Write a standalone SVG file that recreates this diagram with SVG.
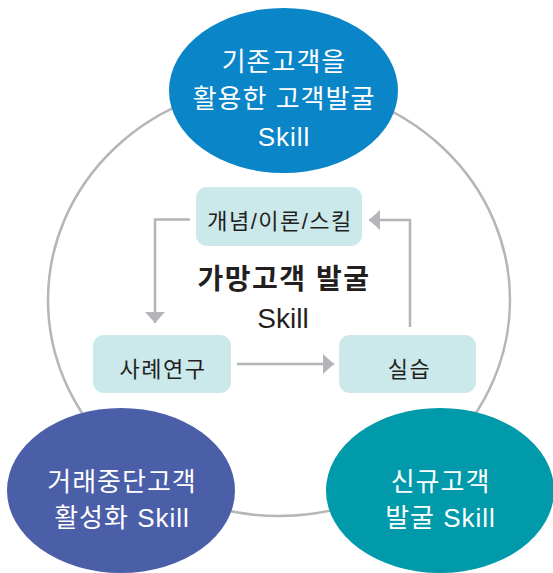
<svg xmlns="http://www.w3.org/2000/svg" width="553" height="573" viewBox="0 0 553 573">
  <style>
    .ring { fill: none; stroke: #b6b6b9; stroke-width: 2.5; }
    .big { font-family: "Liberation Sans", "Noto Sans CJK KR", sans-serif; font-size: 26px; letter-spacing: 1px; fill: #ffffff; text-anchor: middle; }
    .box { fill: #cbe8eb; }
    .boxtxt { font-family: "Liberation Sans", "Noto Sans CJK KR", sans-serif; font-size: 22px; letter-spacing: 1.5px; fill: #231f20; text-anchor: middle; }
    .title { font-family: "Liberation Sans", "Noto Sans CJK KR", sans-serif; font-size: 28px; fill: #231f20; text-anchor: middle; }
    .link { fill: none; stroke: #b4b5b9; stroke-width: 2.5; }
  </style>
  <defs>
    <marker id="head" markerUnits="userSpaceOnUse" markerWidth="12" markerHeight="20" refX="11" refY="10" orient="auto">
      <path d="M0,0 L11,10 L0,20 Z" fill="#b4b5b9"/>
    </marker>
  </defs>
  <rect width="553" height="573" fill="#ffffff"/>

  <!-- cycle ring behind the three outer nodes -->
  <ellipse class="ring" cx="279" cy="300" rx="231" ry="216"/>

  <g id="node-existing">
    <ellipse cx="283.5" cy="90.5" rx="114.5" ry="82.5" fill="#0a85c8"/>
    <text class="big" x="284" y="71">기존고객을</text>
    <text class="big" x="284" y="108">활용한 고객발굴</text>
    <text class="big" x="284" y="146">Skill</text>
  </g>

  <g id="node-dormant">
    <ellipse cx="121" cy="490.5" rx="114" ry="82.5" fill="#4b5ea8"/>
    <text class="big" x="122" y="491">거래중단고객</text>
    <text class="big" x="122" y="527">활성화 Skill</text>
  </g>

  <g id="node-new">
    <ellipse cx="440" cy="490.5" rx="114" ry="82.5" fill="#009aaa"/>
    <text class="big" x="440.5" y="491">신규고객</text>
    <text class="big" x="440.5" y="527">발굴 Skill</text>
  </g>

  <g id="center-title">
    <text class="title" x="284" y="289" font-weight="bold" letter-spacing="1.5">가망고객 발굴</text>
    <text class="title" x="283" y="328">Skill</text>
  </g>

  <g id="box-concept">
    <rect class="box" x="196" y="187" width="166" height="59" rx="11"/>
    <text class="boxtxt" x="280" y="229">개념/이론/스킬</text>
  </g>

  <g id="box-case">
    <rect class="box" x="93" y="335" width="138" height="58" rx="11"/>
    <text class="boxtxt" x="163" y="377">사례연구</text>
  </g>

  <g id="box-practice">
    <rect class="box" x="339" y="335" width="137" height="58" rx="11"/>
    <text class="boxtxt" x="409.5" y="377">실습</text>
  </g>

  <g id="connectors">
    <path class="link" d="M190,219.5 H155 V323" marker-end="url(#head)"/>
    <path class="link" d="M237,364 H334" marker-end="url(#head)"/>
    <path class="link" d="M410,327 V220 H369" marker-end="url(#head)"/>
  </g>
</svg>
